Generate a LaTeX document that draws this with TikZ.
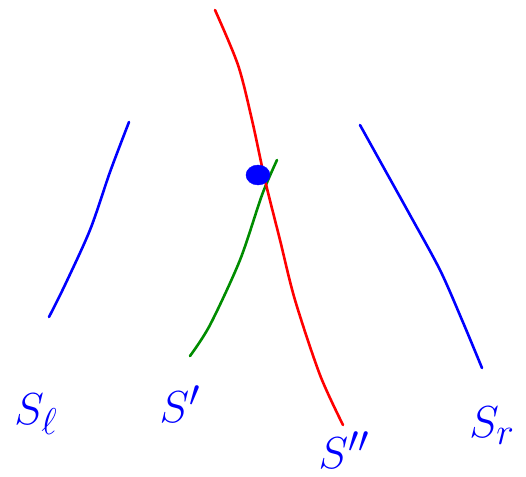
\documentclass[tikz,border=0pt]{standalone}
\usepackage{amsmath,amssymb}
\usepackage{tikz}
\usetikzlibrary{shapes.geometric, positioning, calc}

\begin{document}
\begin{tikzpicture}[
    x=1pt, y=-1pt,
    stroke/.style={line width=2.6pt, line cap=round, line join=round},
    lbl/.style={text=blue, font=\Huge, scale=1.8, inner sep=0pt}
]
    \useasboundingbox (0,0) rectangle (526,476);

    % left line
    \draw[stroke, blue] plot[smooth] coordinates {(49,317) (64,287) (90,230) (110,172) (129,122)};
    % green line
    \draw[stroke, green!55!black] plot[smooth] coordinates {(190,356) (210,325) (240,260) (262,195) (277,160)};
    % red line
    \draw[stroke, red] plot[smooth] coordinates {(215,10) (238,65) (252,120) (265,180) (280,240) (295,300) (320,375) (343,425)};
    % right line
    \draw[stroke, blue] plot[smooth] coordinates {(360,125) (385,170) (410,215) (440,270) (462,320) (482,368)};

    % meeting point
    \node[draw=blue, fill=blue, ellipse, minimum width=24pt, minimum height=20pt, inner sep=0pt] (meet) at (258,175) {};

    % labels
    \node[lbl] (sl) at (36,414) {$S_\ell$};
    \node[lbl] (sp) at (180,404) {$S'$};
    \node[lbl] (spp) at (344,450) {$S''$};
    \node[lbl] (sr) at (492,426) {$S_r$};
\end{tikzpicture}
\end{document}
